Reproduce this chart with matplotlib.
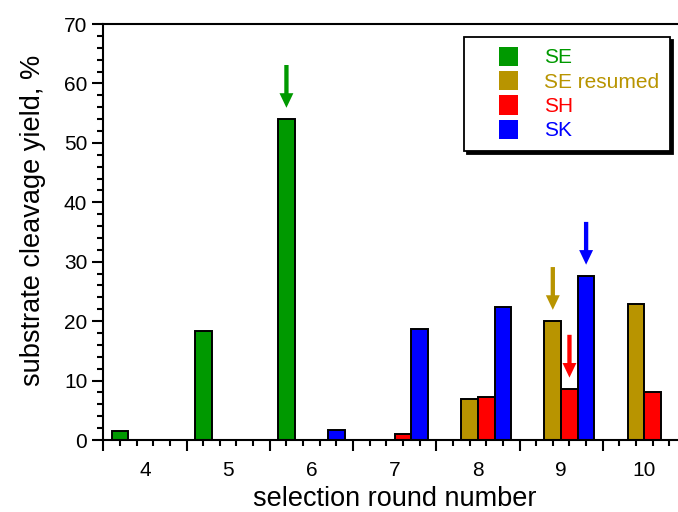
import numpy as np
import matplotlib.pyplot as plt
from matplotlib.patches import Patch, Rectangle
from matplotlib.legend_handler import HandlerPatch

plt.rcParams['font.family'] = ['Liberation Sans', 'DejaVu Sans']

rounds = [4, 5, 6, 7, 8, 9, 10]
series = ['SE', 'SE resumed', 'SH', 'SK']
colors = ['#009900', '#b89400', '#ff0000', '#0000ff']
offsets = [-0.3, -0.1, 0.1, 0.3]
# cleavage yield in %, None = round not done for that selection
se = [1.5, 18.3, 54.0, None, None, None, None]
se_resumed = [None, None, None, None, 6.9, 20.0, 22.9]
sh = [None, None, None, 0.95, 7.2, 8.6, 8.0]
sk = [None, None, 1.7, 18.7, 22.4, 27.6, None]
values = [se, se_resumed, sh, sk]
# arrows: (series index, round)
marked = [(0, 6), (1, 9), (2, 9), (3, 9)]

fig = plt.figure(figsize=(6.78, 5.12), dpi=100)
ax = fig.add_axes([103.3 / 678, 72 / 512, (686 - 103.3) / 678, 416 / 512])

for vals, off, col, name in zip(values, offsets, colors, series):
    xs = [r + off for r, v in zip(rounds, vals) if v is not None]
    ys = [v for v in vals if v is not None]
    ax.bar(xs, ys, width=0.2, color=col, edgecolor='black', linewidth=1.4, label=name)

# arrows above selected bars
for i, r in marked:
    v = values[i][rounds.index(r)]
    x = r + offsets[i]
    ax.annotate('', xy=(x, v + 1.9), xytext=(x, v + 9.1),
                arrowprops=dict(arrowstyle='simple,head_length=1.05,head_width=1.0,tail_width=0.31',
                                mutation_scale=10, color=colors[i], lw=0,
                                shrinkA=0, shrinkB=0))

ax.set_xlim(3.5, 10.5)
ax.set_ylim(0, 70)
ax.spines['right'].set_visible(False)
for s in ['left', 'bottom', 'top']:
    ax.spines[s].set_linewidth(1.5)

ax.set_xticks(np.arange(3.5, 10.6, 1.0))
ax.set_xticks(np.arange(3.5, 10.6, 0.2), minor=True)
ax.set_xticklabels([])
ax.set_yticks(np.arange(0, 71, 10))
ax.set_yticks(np.arange(0, 71, 2), minor=True)
ax.tick_params(which='major', direction='out', length=8, width=1.5, labelsize=15)
ax.tick_params(which='minor', direction='out', length=4, width=1.5)
ax.tick_params(axis='x', which='both', top=False)

sec = ax.secondary_xaxis('bottom')
sec.set_xticks(rounds)
sec.tick_params(length=0, pad=15, labelsize=15)
sec.spines['bottom'].set_visible(False)
sec.set_xlabel('selection round number', fontsize=19.5, labelpad=4.5)
ax.set_ylabel('substrate cleavage yield, %', fontsize=19.5)
ax.yaxis.set_label_coords(-0.098, 0.527)


def square(legend, orig_handle, xdescent, ydescent, width, height, fontsize):
    side = 0.92 * fontsize
    return Rectangle((width - side - xdescent, -ydescent + (height - side) / 2), side, side)


handles = [Patch(facecolor=c, edgecolor='none') for c in colors]
leg = ax.legend(handles, series, loc='upper left', bbox_to_anchor=(0.619, 0.969),
                fontsize=15, frameon=True, fancybox=False, framealpha=1,
                edgecolor='black', shadow={'color': 'black', 'alpha': 1},
                handlelength=2.1, handleheight=0.95, handletextpad=1.25,
                labelspacing=0.2, borderpad=0.5, borderaxespad=0,
                handler_map={Patch: HandlerPatch(patch_func=square)})
leg.get_frame().set_linewidth(1.3)
for t, c in zip(leg.get_texts(), colors):
    t.set_color(c)

fig.savefig('out.png', dpi=100)
